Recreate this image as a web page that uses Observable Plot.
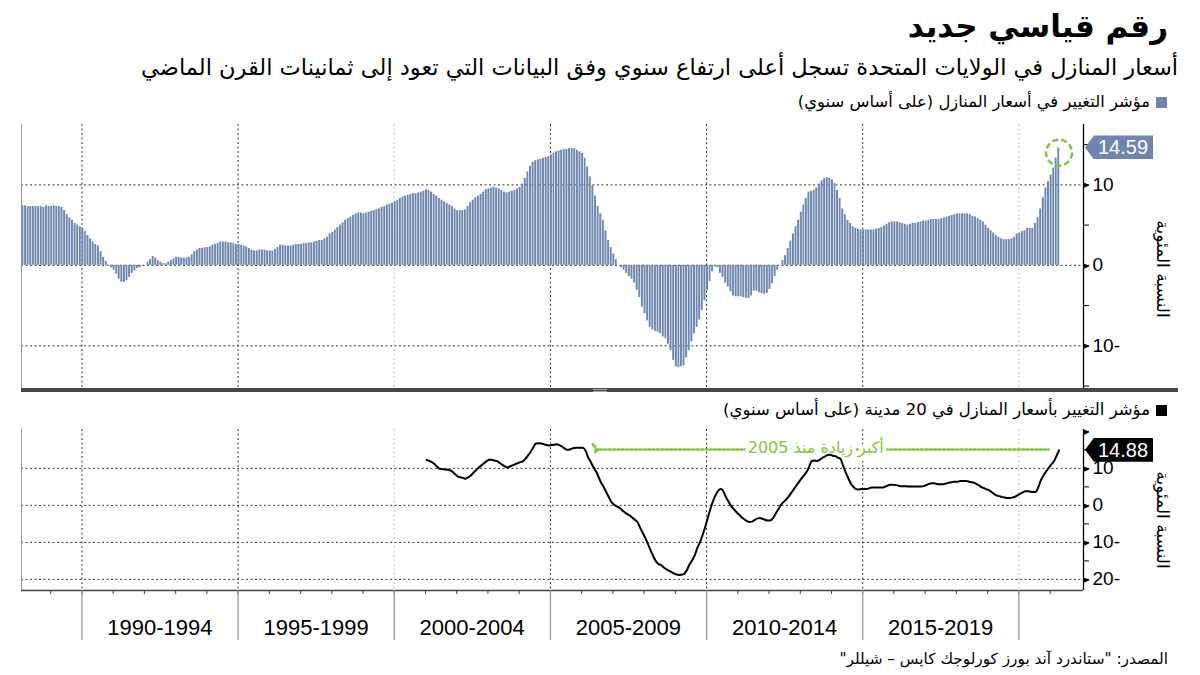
<!DOCTYPE html>
<html><head><meta charset="utf-8">
<script src="https://cdn.jsdelivr.net/npm/d3@7"></script>
<script src="https://cdn.jsdelivr.net/npm/@observablehq/plot@0.6"></script>
<style>
body{margin:0;background:#fff;}
#root{position:relative;width:1200px;height:675px;overflow:hidden;font-family:"DejaVu Sans",sans-serif;background:#fff;}
.t{position:absolute;direction:rtl;white-space:nowrap;color:#000;line-height:1;}
.chart{position:absolute;left:0;}
.sq{display:inline-block;width:11px;height:11px;margin-left:6px;vertical-align:-1px;}
.vlab{position:absolute;white-space:nowrap;direction:rtl;font-size:17px;transform:translate(-50%,-50%) rotate(90deg);line-height:1;}
.tag{position:absolute;color:#fff;font-family:"Liberation Sans",Arial,sans-serif;font-size:20px;height:24px;line-height:24px;padding:0 5px 0 13px;clip-path:polygon(0 50%,9px 0,100% 0,100% 100%,9px 100%);}
</style></head>
<body><div id="root">
<div class="t" id="title" style="right:32px;top:11px;font-size:31px;font-weight:bold;">رقم قياسي جديد</div>
<div class="t" id="subtitle" style="right:22px;top:56px;font-size:22.5px;">أسعار المنازل في الولايات المتحدة تسجل أعلى ارتفاع سنوي وفق البيانات التي تعود إلى ثمانينات القرن الماضي</div>
<div class="t" id="leg1" style="right:33px;top:94px;font-size:16.4px;"><span class="sq" style="background:#6c86ad"></span>مؤشر التغيير في أسعار المنازل (على أساس سنوي)</div>
<div class="t" id="leg2" style="right:33px;top:402px;font-size:16.5px;"><span class="sq" style="background:#000"></span>مؤشر التغيير بأسعار المنازل في 20 مدينة (على أساس سنوي)</div>
<div class="t" id="source" style="right:32px;top:652px;font-size:15.3px;">المصدر: "ستاندرد آند بورز كورلوجك كايس – شيللر"</div>
<div class="vlab" style="left:1162px;top:269px;">النسبة المئوية</div>
<div class="vlab" style="left:1162px;top:520px;">النسبة المئوية</div>
<div id="top" class="chart" style="top:118px;"></div>
<div id="bottom" class="chart" style="top:422px;"></div>
<div style="position:absolute;left:21px;top:388px;width:1157px;height:4px;background:#474747;"></div>
<div style="position:absolute;left:593px;top:389px;width:14px;height:1px;background:#aaa;"></div>
<div style="position:absolute;left:593px;top:391px;width:14px;height:1px;background:#aaa;"></div>
</div>
<script>
// ---- Data ----
const nationalStart = [1988, 0]; // Jan 1988, monthly
const nationalYoY = [
 7.7,7.4,7.4,7.3,7.3,7.3,7.3,7.3,7.3,7.2,7.4,7.3,
 7.3,7.4,7.3,7.3,7.2,6.8,6.3,5.9,5.6,5.2,5.0,4.8,
 4.6,4.2,3.7,3.3,2.9,2.6,2.4,1.7,1.0,0.5,0.0,-0.3,
 -0.6,-1.1,-1.7,-2.1,-2.1,-1.9,-1.5,-1.0,-0.7,-0.4,-0.3,-0.1,
 0.0,0.4,0.7,1.1,0.9,0.6,0.4,0.2,0.2,0.4,0.6,0.8,
 1.0,1.0,0.9,0.9,0.9,1.0,1.3,1.7,1.9,2.1,2.1,2.2,
 2.2,2.3,2.5,2.6,2.7,2.9,2.9,2.9,2.8,2.8,2.7,2.6,
 2.6,2.5,2.4,2.3,2.1,1.9,1.8,1.8,1.9,1.9,1.9,1.8,
 1.8,1.8,2.0,2.2,2.5,2.5,2.4,2.4,2.4,2.5,2.6,2.6,
 2.6,2.7,2.7,2.8,2.8,2.9,3.0,3.1,3.1,3.3,3.5,3.9,
 4.1,4.4,4.7,5.0,5.3,5.6,5.8,6.0,6.2,6.4,6.5,6.5,
 6.4,6.5,6.6,6.7,6.8,6.9,7.0,7.2,7.3,7.5,7.6,7.7,
 7.9,8.1,8.3,8.5,8.6,8.7,8.8,8.9,8.9,9.0,9.1,9.2,
 9.4,9.3,9.1,8.8,8.6,8.3,8.1,7.9,7.7,7.5,7.3,7.0,
 6.8,6.8,6.8,6.9,7.3,7.8,8.1,8.4,8.6,8.8,9.1,9.4,
 9.5,9.6,9.7,9.6,9.5,9.3,9.1,9.0,9.1,9.2,9.3,9.5,
 9.7,10.1,10.8,11.6,12.3,12.8,13.0,13.1,13.2,13.3,13.4,13.5,
 13.7,13.9,14.1,14.2,14.3,14.4,14.4,14.5,14.5,14.5,14.3,14.1,
 13.9,13.3,12.2,11.0,9.9,8.6,7.3,6.4,5.6,4.3,3.1,2.2,
 1.4,0.7,0.0,-0.3,-0.6,-1.0,-1.4,-1.7,-2.2,-3.1,-4.0,-5.2,
 -6.0,-6.9,-7.7,-8.0,-8.2,-8.3,-8.5,-8.9,-9.1,-9.8,-10.6,-11.8,
 -12.6,-12.7,-12.6,-12.5,-11.5,-10.6,-9.5,-8.5,-7.7,-6.8,-5.6,-4.4,
 -3.1,-2.0,-0.8,-0.2,-0.3,-1.0,-1.5,-2.2,-2.7,-3.3,-3.8,-3.9,
 -3.9,-3.9,-4.0,-4.1,-4.1,-3.8,-3.2,-3.2,-3.4,-3.5,-3.6,-3.5,
 -3.0,-2.3,-1.4,-0.6,0.0,0.6,1.2,2.1,3.0,3.9,4.8,5.6,
 6.6,7.5,8.3,9.1,9.2,9.3,9.6,10.1,10.5,10.8,10.9,10.8,
 10.6,10.2,9.3,8.3,7.0,6.3,5.6,5.2,4.8,4.6,4.5,4.4,
 4.4,4.4,4.4,4.4,4.4,4.5,4.6,4.7,4.9,5.1,5.3,5.4,
 5.4,5.4,5.3,5.2,5.1,5.0,5.1,5.2,5.2,5.3,5.4,5.5,
 5.5,5.6,5.7,5.7,5.7,5.7,5.8,5.9,6.0,6.1,6.2,6.3,
 6.4,6.4,6.4,6.4,6.4,6.3,6.1,6.0,5.8,5.6,5.4,5.0,
 4.6,4.3,4.0,3.7,3.5,3.3,3.2,3.2,3.2,3.3,3.5,3.9,
 4.0,4.2,4.3,4.6,4.6,4.6,5.2,5.9,7.0,8.4,9.6,10.4,
 11.2,12.1,13.3,14.59
];
const city20Start = [2001, 0]; // Jan 2001, monthly
const city20YoY = [
 12.3,12.0,11.7,11.2,10.5,9.9,9.8,9.7,9.6,9.5,9.0,8.4,
 7.8,7.6,7.4,7.2,7.6,8.1,8.8,9.5,10.2,10.8,11.4,11.9,
 12.3,12.3,12.1,12.0,11.5,11.0,10.6,10.2,10.5,10.8,11.1,11.4,
 11.7,11.9,12.6,13.5,14.5,15.7,16.7,16.8,16.7,16.5,16.3,16.2,
 16.3,16.4,16.5,16.3,15.9,15.4,15.0,15.1,15.4,15.5,15.6,15.6,
 15.6,14.8,13.1,11.8,10.5,9.3,7.8,6.2,5.0,3.6,2.2,0.9,
 0.2,-0.3,-0.6,-1.2,-1.8,-2.3,-2.7,-3.3,-3.9,-4.5,-6.0,-7.4,
 -8.8,-10.4,-12.0,-13.6,-15.0,-15.8,-16.1,-16.7,-17.2,-17.6,-18.0,-18.4,
 -18.7,-18.8,-18.7,-18.5,-17.5,-16.0,-14.9,-13.5,-11.5,-10.0,-8.0,-5.9,
 -3.4,-0.9,1.0,2.7,3.9,4.5,3.8,2.3,1.0,-0.2,-1.0,-1.8,
 -2.5,-3.2,-3.7,-4.2,-4.5,-4.4,-4.0,-3.6,-3.4,-3.6,-3.9,-4.1,
 -4.1,-3.5,-2.4,-1.2,0.0,0.8,1.5,2.3,3.3,4.3,5.3,6.3,
 7.3,8.2,9.0,10.5,12.0,12.1,12.0,12.3,12.8,13.2,13.6,13.7,
 13.4,13.3,12.9,12.6,10.8,9.0,7.4,5.9,5.0,4.4,4.3,4.4,
 4.4,4.4,4.6,4.8,4.8,4.8,4.8,4.8,5.0,5.3,5.6,5.6,
 5.5,5.4,5.2,5.2,5.2,5.1,5.1,5.1,5.1,5.1,5.1,5.2,
 5.5,5.8,6.0,6.0,5.8,5.7,5.7,5.8,6.0,6.2,6.3,6.4,
 6.4,6.6,6.6,6.6,6.5,6.3,6.2,5.9,5.5,5.0,4.7,4.4,
 4.1,3.6,3.1,2.7,2.5,2.3,2.1,2.0,2.0,2.1,2.3,2.7,
 3.1,3.5,3.8,3.8,3.7,3.6,3.6,4.9,6.8,8.0,9.2,10.1,
 11.1,11.9,13.3,14.88
];
const periodStartYears = [1990, 1995, 2000, 2005, 2010, 2015];
const periodLabels = ["1990-1994", "1995-1999", "2000-2004", "2005-2009", "2010-2014", "2015-2019"];
const gridYears = [1990, 1995, 2000, 2005, 2010, 2015, 2020];
const topTicks = [-15, -10, -5, 0, 5, 10, 15];
const topLabeled = [-10, 0, 10];
const bottomTicks = [-20, -15, -10, -5, 0, 5, 10, 15, 20];
const bottomLabeled = [-20, -10, 0, 10];
const bottomMajor = [-20, -10, 0, 10, 20];
const annoText = "أكبر زيادة منذ 2005";
const annoFrom = [2006, 5];   // arrow head (left)
const annoTo = [2020, 11];    // arrow tail (right)
const annoLabelAt = [2013, 6];
const annoLevel = 15.1;
const circleLevel = 14.0;

// ---- Build ----
const U = (y, m, d = 1) => new Date(Date.UTC(y, m, d));
const national = nationalYoY.map((v, i) => ({date: U(nationalStart[0], nationalStart[1] + i), value: v}));
const city20 = city20YoY.map((v, i) => ({date: U(city20Start[0], city20Start[1] + i, 15), value: v}));
const xDomain = [U(1988, 0, 25), U(2022, 0, 26)];
const gridDark = gridYears.filter(y => y !== 2000 && y !== 2020).map(y => U(y, 0));
const gridLight = [2000, 2020].map(y => U(y, 0));
const fmt = d => d < 0 ? `${-d}-` : `${d}`;
const numFont = "Liberation Sans, Arial, sans-serif";
const green = "#86c33a";
const lastN = national[national.length - 1];
const lastC = city20[city20.length - 1];

const topChart = Plot.plot({
  width: 1200, height: 276, marginLeft: 21, marginRight: 117, marginTop: 6, marginBottom: 6,
  x: {type: "utc", domain: xDomain, axis: null},
  y: {domain: [-15.3, 17.5], axis: null},
  style: {fontFamily: numFont, fontSize: "19px", color: "#000", background: "transparent", overflow: "visible"},
  marks: [
    Plot.ruleY(topLabeled, {stroke: "#333", strokeDasharray: "2,2.5", strokeWidth: 1}),
    Plot.ruleX(gridDark, {stroke: "#333", strokeDasharray: "2,2.5", strokeWidth: 1}),
    Plot.ruleX(gridLight, {stroke: "#bbb", strokeDasharray: "2,2.5", strokeWidth: 1}),
    Plot.rectY(national, {x: "date", y: "value", interval: "month", fill: "#6c86ad", insetRight: 0.7, clip: true}),
    Plot.ruleX([xDomain[0]], {stroke: "#999", strokeWidth: 1}),
    Plot.ruleX([xDomain[1]], {stroke: "#000", strokeWidth: 1.3}),
    Plot.axisY({anchor: "right", label: null, ticks: topTicks, tickSize: 5, tickPadding: 4, tickFormat: d => topLabeled.includes(d) ? fmt(d) : "", fontSize: 19}),
    Plot.text(topLabeled, {x: () => xDomain[1], y: d => d, text: () => "▶", fontSize: 7, dx: 3, fill: "#000"}),
    Plot.dot([lastN], {x: d => U(2021, 3, 15), y: () => circleLevel, r: 13, stroke: green, strokeWidth: 2.5, strokeDasharray: "6,3", fill: "none"})
  ]
});
document.getElementById("top").appendChild(topChart);

const periods = periodStartYears.map((y, i) => ({mid: U(y + 2, 6), label: periodLabels[i]}));
const bottomChart = Plot.plot({
  width: 1200, height: 218, marginLeft: 21, marginRight: 117, marginTop: 7, marginBottom: 50,
  x: {type: "utc", domain: xDomain, axis: null},
  y: {domain: [-23, 20.5], axis: null},
  style: {fontFamily: numFont, fontSize: "19px", color: "#000", background: "transparent", overflow: "visible"},
  marks: [
    Plot.ruleY([-20, -10, 0, 10], {stroke: "#333", strokeDasharray: "2,2.5", strokeWidth: 1}),
    Plot.ruleX(gridDark, {stroke: "#333", strokeDasharray: "2,2.5", strokeWidth: 1}),
    Plot.ruleX(gridLight, {stroke: "#bbb", strokeDasharray: "2,2.5", strokeWidth: 1}),
    Plot.ruleX([xDomain[0]], {stroke: "#999", strokeWidth: 1}),
    Plot.ruleX([xDomain[1]], {stroke: "#000", strokeWidth: 1.3}),
    Plot.ruleY([-23], {stroke: "#444", strokeWidth: 1.5}),
    Plot.axisX({ticks: d3.range(1989, 2022).map(y => U(y, 0)), label: null, tickSize: 4, tickFormat: () => "", stroke: "#444"}),
    Plot.axisX({ticks: gridYears.map(y => U(y, 0)), label: null, tickSize: 50, tickFormat: () => "", stroke: "#999", strokeWidth: 1.3}),
    Plot.text(periods, {x: "mid", text: "label", frameAnchor: "bottom", dy: 44, fontSize: 22, fill: "#000"}),
    Plot.line([{d: U(annoFrom[0], annoFrom[1], 10)}, {d: U(annoTo[0], annoTo[1], 15)}], {x: "d", y: () => annoLevel, stroke: green, strokeWidth: 2.6, strokeDasharray: "2,2.4", markerStart: "arrow"}),
    Plot.text([annoText], {x: () => U(annoLabelAt[0], annoLabelAt[1]), y: () => annoLevel, text: d => d, fill: green, stroke: "#fff", strokeWidth: 8, fontSize: 16, fontFamily: "DejaVu Sans", dy: -2}),
    Plot.line(city20, {x: "date", y: "value", stroke: "#000", strokeWidth: 2, curve: "monotone-x"}),
    Plot.axisY({anchor: "right", label: null, ticks: bottomTicks, tickSize: 5, tickPadding: 4, tickFormat: d => bottomLabeled.includes(d) ? fmt(d) : "", fontSize: 19}),
    Plot.text(bottomMajor, {x: () => xDomain[1], y: d => d, text: () => "▶", fontSize: 7, dx: 3, fill: "#000"})
  ]
});
document.getElementById("bottom").appendChild(bottomChart);

// value tags
function tag(chart, top, value, bg) {
  const y = chart.scale("y").apply(value);
  const el = document.createElement("div");
  el.className = "tag";
  el.style.background = bg;
  el.style.left = "1085px";
  el.style.top = (top + y - 12) + "px";
  el.textContent = value.toFixed(2);
  document.getElementById("root").appendChild(el);
}
tag(topChart, 118, lastN.value, "#6c86ad");
tag(bottomChart, 422, lastC.value, "#000");
</script>
</body></html>
